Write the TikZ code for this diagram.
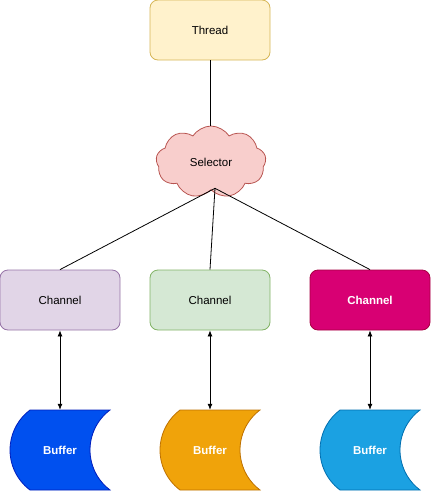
\documentclass[tikz,border=0pt]{standalone}
\usepackage{fontspec}
\setmainfont{Liberation Sans}
\usetikzlibrary{arrows.meta,shapes.symbols}
\definecolor{threadFill}  {HTML}{FFF2CC}
\definecolor{threadLine}  {HTML}{D6B656}
\definecolor{selFill}     {HTML}{F8CECC}
\definecolor{selLine}     {HTML}{B85450}
\definecolor{chanAFill}   {HTML}{E1D5E7}
\definecolor{chanALine}   {HTML}{9673A6}
\definecolor{chanBFill}   {HTML}{D5E8D4}
\definecolor{chanBLine}   {HTML}{82B366}
\definecolor{chanCFill}   {HTML}{D80073}
\definecolor{chanCLine}   {HTML}{A50040}
\definecolor{bufAFill}    {HTML}{0050EF}
\definecolor{bufALine}    {HTML}{001DBC}
\definecolor{bufBFill}    {HTML}{F0A30A}
\definecolor{bufBLine}    {HTML}{BD7000}
\definecolor{bufCFill}    {HTML}{1BA1E2}
\definecolor{bufCLine}    {HTML}{006EAF}
\tikzset{
  font=\fontsize{11.5}{13}\selectfont,
  link/.style={draw=black,line width=0.8pt},
  twoway/.style={{Latex[length=6pt,width=5pt]}-{Latex[length=6pt,width=5pt]},draw=black,line width=0.8pt},
  box/.style={rectangle,rounded corners=8pt,line width=0.8pt,
    minimum width=120pt,minimum height=60pt,align=center,inner sep=0pt},
  selcloud/.style={cloud,cloud puffs=9,cloud puff arc=115,aspect=1.6,draw=selLine,fill=selFill,
    line width=0.8pt,minimum width=110pt,minimum height=72pt,inner sep=0pt},
  buftext/.style={draw=none,minimum width=100pt,minimum height=80pt,text=white,font=\fontsize{11.5}{13}\selectfont\bfseries},
}
% buffer outline: flat top and bottom, bulge left, hollow right
\newcommand{\bufshape}[3]{%
  \filldraw[fill=#2,draw=#3,line width=0.8pt]
    (#1-30,410) -- (#1+50,410) arc[start angle=233.13,end angle=126.87,radius=50]
    -- (#1-30,490) arc[start angle=126.87,end angle=233.13,radius=50] -- cycle;}

\begin{document}
\begin{tikzpicture}[x=1pt,y=-1pt]

\useasboundingbox (0,0) rectangle (431,491);

\node[box,draw=threadLine,fill=threadFill] (thread) at (210,30) {Thread};

\node[selcloud] (selector) at (211,162) {Selector};
\coordinate (selTop) at (selector.north -| thread.south);
\coordinate (selBot) at ([xshift=4pt,yshift=2pt]selector.south);

\draw[link] (thread.south) -- (selTop);

\node[box,draw=chanALine,fill=chanAFill] (chanA) at (60,300) {Channel};
\node[box,draw=chanBLine,fill=chanBFill] (chanB) at (210,300) {Channel};
\node[box,draw=chanCLine,fill=chanCFill,text=white,font=\fontsize{11.5}{13}\selectfont\bfseries] (chanC) at (370,300) {Channel};

\draw[link] (selBot) -- (chanA.north);
\draw[link] (selBot) -- (chanB.north);
\draw[link] (selBot) -- (chanC.north);

\bufshape{60}{bufAFill}{bufALine}
\bufshape{210}{bufBFill}{bufBLine}
\bufshape{370}{bufCFill}{bufCLine}

\node[buftext] (bufA) at (60,450) {Buffer};
\node[buftext] (bufB) at (210,450) {Buffer};
\node[buftext] (bufC) at (370,450) {Buffer};

\draw[twoway] (chanA.south) -- (bufA.north);
\draw[twoway] (chanB.south) -- (bufB.north);
\draw[twoway] (chanC.south) -- (bufC.north);

\end{tikzpicture}
\end{document}
